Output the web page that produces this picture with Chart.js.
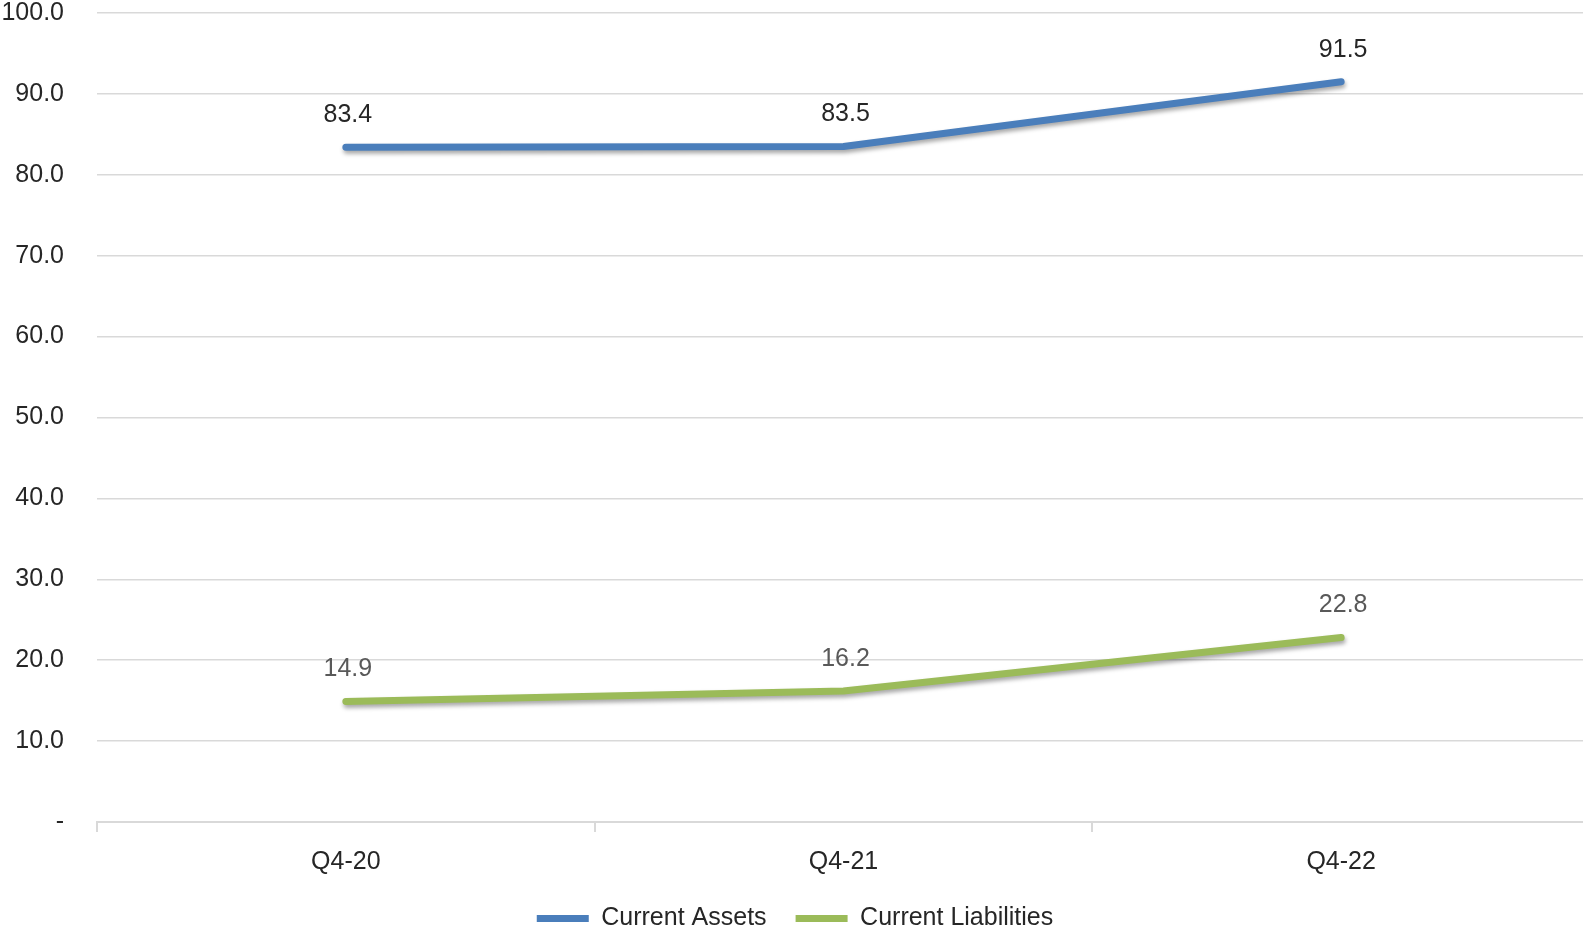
<!DOCTYPE html>
<html>
<head>
<meta charset="utf-8">
<script src="https://cdn.jsdelivr.net/npm/chart.js@4.4.0/dist/chart.umd.min.js"></script>
<style>
  html, body { margin: 0; padding: 0; background: #fff; overflow: hidden; }
  #wrap { width: 1583px; height: 931px; overflow: hidden; }
  canvas { display: block; }
</style>
</head>
<body>
<div id="wrap"><canvas id="myChart" width="1590" height="941"></canvas></div>
<script>
// dati del grafico
const quarters = ["Q4-20", "Q4-21", "Q4-22"];
const currentAssets = [83.4, 83.5, 91.5];
const currentLiabilities = [14.9, 16.2, 22.8];

const FONT = "'Liberation Sans', Arial, sans-serif";

// etichette sopra i punti, come in Excel
const valueLabels = {
  id: "valueLabels",
  afterDatasetsDraw(chart) {
    const ctx = chart.ctx;
    ctx.save();
    ctx.font = "25px " + FONT;
    ctx.textAlign = "center";
    ctx.textBaseline = "middle";
    chart.data.datasets.forEach((ds, i) => {
      const meta = chart.getDatasetMeta(i);
      ctx.fillStyle = ds.labelColor;
      meta.data.forEach((pt, j) => {
        ctx.fillText(ds.data[j].toFixed(1), pt.x + 2, pt.y - 32);
      });
    });
    ctx.restore();
  }
};

// ombra leggera sotto le linee
const lineShadow = {
  id: "lineShadow",
  beforeDatasetsDraw(chart) {
    const ctx = chart.ctx;
    ctx.save();
    ctx.shadowColor = "rgba(0,0,0,0.35)";
    ctx.shadowBlur = 4;
    ctx.shadowOffsetX = 1;
    ctx.shadowOffsetY = 3;
  },
  afterDatasetsDraw(chart) {
    chart.ctx.restore();
  }
};

const ctx = document.getElementById("myChart").getContext("2d");
const myChart = new Chart(ctx, {
  type: "line",
  data: {
    labels: quarters,
    datasets: [
      {
        label: "Current Assets",
        data: currentAssets,
        borderColor: "#4A7EBB",
        backgroundColor: "#4A7EBB",
        borderWidth: 7,
        borderCapStyle: "round",
        borderJoinStyle: "round",
        pointRadius: 0,
        labelColor: "#262626"
      },
      {
        label: "Current Liabilities",
        data: currentLiabilities,
        borderColor: "#9BBB59",
        backgroundColor: "#9BBB59",
        borderWidth: 7,
        borderCapStyle: "round",
        borderJoinStyle: "round",
        pointRadius: 0,
        labelColor: "#595959"
      }
    ]
  },
  options: {
    responsive: false,
    animation: false,
    events: [],
    layout: { padding: { top: 13, left: 0, right: 0, bottom: 0 } },
    plugins: {
      tooltip: { enabled: false },
      legend: {
        display: true,
        position: "bottom",
        labels: {
          color: "#262626",
          font: { family: FONT, size: 25 },
          usePointStyle: true,
          pointStyle: "line",
          pointStyleWidth: 52,
          padding: 29
        }
      }
    },
    scales: {
      x: {
        offset: true,
        border: { display: true, color: "#d9d9d9", width: 2 },
        grid: {
          offset: true,
          drawOnChartArea: false,
          drawTicks: true,
          tickLength: 10,
          color: "#d9d9d9",
          lineWidth: 2
        },
        ticks: {
          color: "#262626",
          padding: 15,
          font: { family: FONT, size: 25, lineHeight: 1.2 }
        },
        afterFit: (scale) => {
          scale.height = 55;
        }
      },
      y: {
        min: 0,
        max: 100,
        border: { display: false },
        grid: { color: "#d9d9d9", lineWidth: 1.5, drawTicks: false },
        ticks: {
          stepSize: 10,
          color: "#262626",
          padding: 33,
          font: { family: FONT, size: 25, lineHeight: 1 },
          callback: (v) => (v === 0 ? "-" : v.toFixed(1))
        },
        afterFit: (scale) => {
          scale.width = 97;
          scale.paddingTop = 0;
          scale.paddingBottom = 0;
        }
      }
    }
  },
  plugins: [lineShadow, valueLabels]
});
</script>
</body>
</html>
